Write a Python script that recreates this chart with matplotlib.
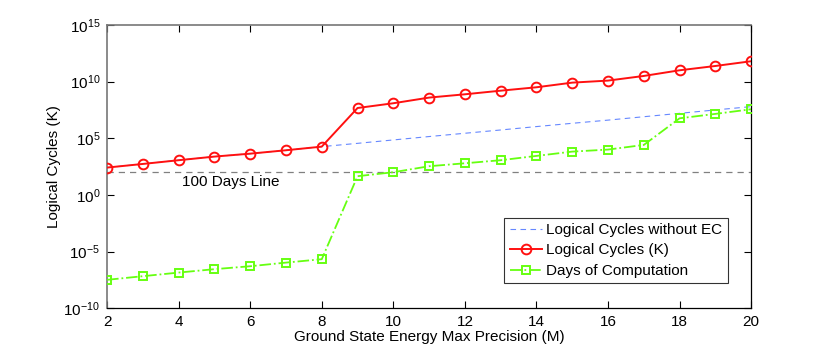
import numpy as np
import matplotlib
matplotlib.use("Agg")
import matplotlib.pyplot as plt

plt.rcParams['font.family'] = ['Liberation Sans', 'DejaVu Sans']
plt.rcParams['mathtext.fontset'] = 'custom'
plt.rcParams['mathtext.rm'] = 'Liberation Sans'

# precision M
m = np.arange(2, 21)

# log10 values
log_cycles = [2.41, 2.73, 3.06, 3.38, 3.64, 3.94, 4.26, 7.67, 8.09, 8.59,
              8.88, 9.20, 9.50, 9.91, 10.09, 10.50, 11.00, 11.38, 11.80]
log_no_ec = [2.41, 2.73, 3.06, 3.38, 3.64, 3.94, 4.26, 4.55, 4.85, 5.15,
             5.44, 5.73, 6.03, 6.32, 6.60, 6.90, 7.20, 7.50, 7.79]
log_days = [-7.50, -7.18, -6.86, -6.56, -6.30, -5.98, -5.68, 1.65, 2.00, 2.53,
            2.79, 3.06, 3.44, 3.82, 4.00, 4.41, 6.76, 7.15, 7.56]
days_limit = 100

cycles = 10.0 ** np.array(log_cycles)
no_ec = 10.0 ** np.array(log_no_ec)
days = 10.0 ** np.array(log_days)

fig = plt.figure(figsize=(8.3, 3.47), dpi=100)
ax = fig.add_axes([0.129, 0.112, 0.776, 0.816])

ax.axhline(days_limit, color='#808080', ls=(0, (5, 4)), lw=0.9, zorder=1)
ax.plot(m, no_ec, color='#6688ff', ls=(0, (5, 4)), lw=0.8, label='Logical Cycles without EC', zorder=2)
ax.plot(m, cycles, color='#ff1010', ls='-', lw=1.4, marker='o', ms=7, mfc='none',
        mew=1.4, label='Logical Cycles (K)', zorder=3)
ax.plot(m, days, color='#66ff11', ls='-.', lw=1.3, marker='s', ms=6, mfc='none',
        mew=1.4, label='Days of Computation', zorder=3)

ax.text(4.1, 10 ** 1.17, '100 Days Line', fontsize=11, va='center', ha='left')

ax.set_yscale('log')
ax.set_xlim(2, 20)
ax.set_ylim(1e-10, 1e15)
ax.set_xticks(range(2, 21, 2))
ax.set_yticks([10.0 ** k for k in range(-10, 16, 5)])
ax.minorticks_off()
ax.tick_params(direction='in', top=True, right=True, labelsize=11, length=5, width=0.8, pad=5)

for s in ['left', 'top']:
    ax.spines[s].set_color('#777777')
    ax.spines[s].set_linewidth(1.2)
for s in ['bottom', 'right']:
    ax.spines[s].set_color('black')
    ax.spines[s].set_linewidth(0.9)

ax.set_xlabel('Ground State Energy Max Precision (M)', fontsize=11, labelpad=1)
ax.set_ylabel('Logical Cycles (K)', fontsize=11, labelpad=2)

leg = ax.legend(loc='lower right', bbox_to_anchor=(0.964, 0.088), fontsize=11,
                frameon=True, fancybox=False, borderpad=0.35, labelspacing=0.42,
                handlelength=2.1, handletextpad=0.3, borderaxespad=0)
leg.get_frame().set_edgecolor('black')
leg.get_frame().set_linewidth(0.8)

fig.savefig('out.png', dpi=100)
